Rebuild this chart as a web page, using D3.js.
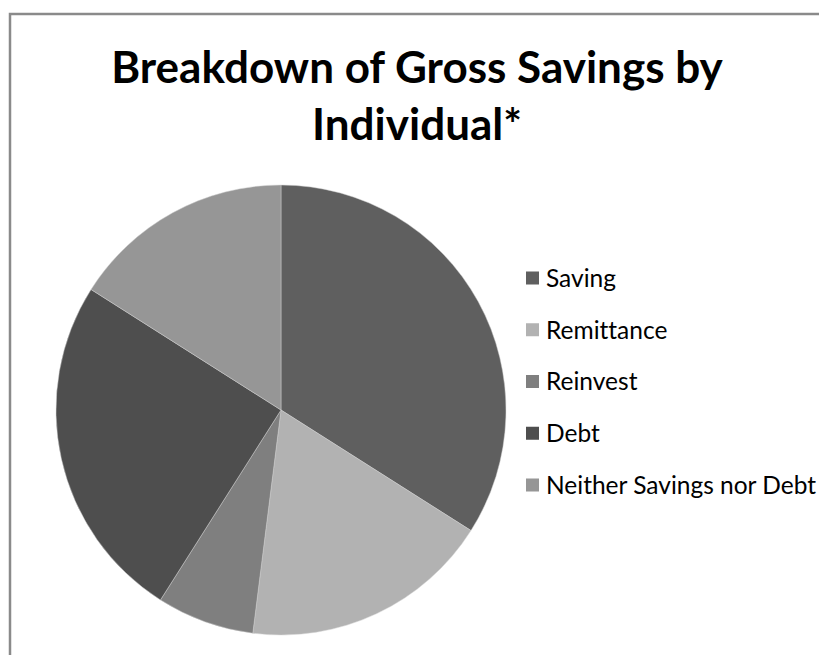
<!DOCTYPE html>
<html>
<head>
<meta charset="utf-8">
<script src="https://cdn.jsdelivr.net/npm/d3@7"></script>
<style>
  html, body { margin: 0; padding: 0; background: #fff; }
  svg { display: block; }
  text { font-variant-ligatures: none; font-feature-settings: "liga" 0; }
</style>
</head>
<body>
<svg id="chart" width="819" height="655"></svg>
<script>
const titleLines = ["Breakdown of Gross Savings by", "Individual*"];
const categories = ["Saving", "Remittance", "Reinvest", "Debt", "Neither Savings nor Debt"];
const values = [34, 18, 7, 25, 16];
const colors = ["#5f5f5f", "#b2b2b2", "#7f7f7f", "#4e4e4e", "#969696"];

const svg = d3.select("#chart");

// chart frame (extends past right and bottom edges)
svg.append("rect")
  .attr("x", 10).attr("y", 14)
  .attr("width", 900).attr("height", 900)
  .attr("fill", "#fff")
  .attr("stroke", "#8a8a8a")
  .attr("stroke-width", 2.5);

// title
const title = svg.append("text")
  .attr("text-anchor", "middle")
  .attr("font-family", "Lato, 'Open Sans', sans-serif")
  .attr("font-weight", "bold")
  .attr("font-size", 44)
  .attr("fill", "#000");
title.selectAll("tspan").data(titleLines).join("tspan")
  .attr("x", 417)
  .attr("y", (d, i) => 83 + i * 57)
  .text(d => d);

// pie
const cx = 281, cy = 410, r = 225;
const pie = d3.pie().sort(null).value(d => d.v);
const arc = d3.arc().innerRadius(0).outerRadius(r);
const data = categories.map((c, i) => ({ c, v: values[i], color: colors[i] }));

svg.append("g")
  .attr("transform", `translate(${cx},${cy})`)
  .selectAll("path")
  .data(pie(data))
  .join("path")
  .attr("d", arc)
  .attr("fill", d => d.data.color)
  .attr("stroke", "#d0d0d0")
  .attr("stroke-width", 0.8)
  .attr("stroke-opacity", 0.6);

// legend
const legendY = d3.scalePoint().domain(categories).range([278, 485]);
const lg = svg.append("g");
const item = lg.selectAll("g").data(data).join("g")
  .attr("transform", d => `translate(526,${legendY(d.c)})`);
item.append("rect")
  .attr("x", 0).attr("y", -6.5)
  .attr("width", 13).attr("height", 13)
  .attr("fill", d => d.color);
item.append("text")
  .attr("x", 20).attr("y", 0)
  .attr("dy", "0.36em")
  .attr("font-family", "Lato, 'Open Sans', sans-serif")
  .attr("font-size", 24.5)
  .attr("fill", "#000")
  .text(d => d.c);
</script>
</body>
</html>
